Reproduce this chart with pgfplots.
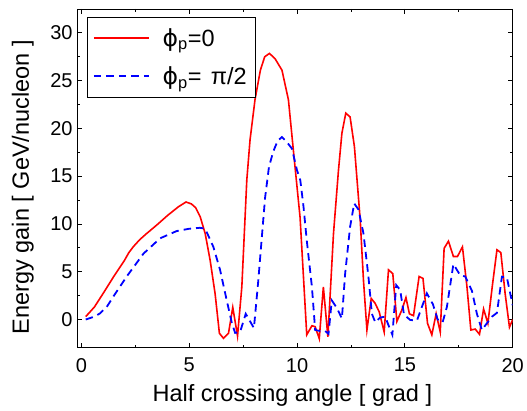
\documentclass[border=0pt]{standalone}
\usepackage{pgfplots}
\pgfplotsset{compat=1.18}
\usepackage{fontspec}
\setmainfont{Liberation Sans}
\newfontfamily\dejavu{DejaVu Sans}
\begin{document}
\begin{tikzpicture}
\begin{axis}[
  scale only axis,
  width=435.4bp, height=338.7bp,
  xmin=-0.19, xmax=20, ymin=-2.95, ymax=32.5,
  xtick={0,5,...,20}, ytick={0,5,...,30},
  minor x tick num=1, minor y tick num=1,
  tick align=inside,
  major tick length=5bp, minor tick length=3bp,
  axis line style={line width=0.8bp},
  every tick/.style={black, line width=0.8bp},
  /pgf/number format/assume math mode=true,
  tick label style={font=\fontsize{20bp}{24bp}\selectfont},
  xticklabel style={inner ysep=0pt, yshift=-10.3bp},
  yticklabel style={inner xsep=0pt, xshift=-4.6bp},
  label style={font=\fontsize{23.5bp}{28bp}\selectfont},
  xlabel={Half crossing angle [ grad ]},
  ylabel={Energy gain [ GeV/nucleon ]},
  xlabel style={at={(axis description cs:0.494,-0.1574)}, anchor=base, inner sep=0pt},
  ylabel style={at={(axis description cs:-0.111,0.474)}, anchor=base, inner sep=0pt},
  legend style={at={(axis description cs:0.0216,0.976)}, anchor=north west,
    draw=black, fill=white,
    font=\fontsize{23.5bp}{28bp}\selectfont,
    inner xsep=6bp, inner ysep=9bp, row sep=15bp,
    cells={anchor=west},
    /tikz/every odd column/.append style={column sep=11bp}},
  legend image code/.code={\draw[#1] (0bp,0bp) -- (55bp,0bp);},
]
\addplot[red, line width=1.6bp] coordinates {
(0.2,0.3) (0.6,1.3) (1.0,2.7) (1.5,4.5) (2.0,6.2) (2.2,7.0) (2.4,7.6) (2.6,8.1)
(2.8,8.55) (3.0,8.95) (3.5,9.9)
(4.0,10.9) (4.5,11.8) (4.85,12.3) (5.1,12.1) (5.3,11.7) (5.51,10.75) (5.74,9.0)
(5.97,6.2) (6.2,2.7) (6.4,-1.45) (6.59,-1.97) (6.82,-1.45) (7.02,1.27) (7.24,-1.73)
(7.44,3.43) (7.67,14.6) (7.82,18.8) (8.05,23.0) (8.3,26.1) (8.5,27.5) (8.72,27.85)
(8.98,27.3) (9.3,26.1) (9.6,23.0) (9.83,17.7) (10.14,10.7) (10.45,-1.6) (10.69,-0.65)
(10.84,-0.75) (11.03,-2.0) (11.22,3.4) (11.43,-1.8) (11.69,9.0) (11.92,15.6)
(12.08,19.5) (12.26,21.6) (12.46,21.2) (12.66,18.1) (12.93,10.4) (13.08,4.1)
(13.24,-1.1) (13.44,2.2) (13.62,1.7) (13.81,0.8) (14.04,-1.3) (14.24,5.2)
(14.44,4.8) (14.63,-0.2) (14.86,1.0) (15.05,2.3) (15.21,0.6) (15.40,0.4)
(15.66,4.5) (15.84,4.3) (16.05,-0.4) (16.25,-1.6) (16.45,0.6) (16.64,-1.3)
(16.82,7.45) (17.02,8.2) (17.25,6.6) (17.44,6.6) (17.67,7.6) (17.88,3.4)
(18.06,-1.1) (18.26,-1.0) (18.46,-1.55) (18.65,1.1) (18.85,-0.4) (19.06,3.6)
(19.27,7.3) (19.45,7.0) (19.65,2.7) (19.85,-0.8) (20.0,0.0)
};
\addlegendentry{{\dejavu ϕ}\textsubscript{p}=0}
\addplot[blue, line width=1.8bp, dash pattern=on 7.5bp off 5bp] coordinates {
(0.2,0.0) (0.6,0.3) (0.87,0.65) (1.2,1.4) (1.48,2.4) (2.1,4.5) (2.88,6.9)
(3.65,8.5) (4.42,9.26) (5.0,9.5) (5.5,9.6) (5.74,9.5) (6.12,7.6) (6.43,5.2)
(6.74,2.0) (6.98,-0.4) (7.13,-1.4) (7.36,-1.3) (7.62,0.6) (7.85,-0.3) (8.0,-0.9)
(8.2,4.0) (8.37,8.7) (8.52,12.8) (8.7,16.0) (8.9,17.6) (9.1,18.7) (9.3,19.1)
(9.55,18.5) (9.76,17.9) (10.0,15.6) (10.15,14.6) (10.3,11.8) (10.45,8.3)
(10.69,3.4) (10.84,-1.1) (11.07,-1.2) (11.3,-1.2) (11.46,-1.5) (11.61,2.0)
(11.85,1.2) (12.08,0.1) (12.23,4.8) (12.46,9.7) (12.65,12.15) (12.85,11.5)
(13.08,9.0) (13.31,4.5) (13.47,0.6) (13.63,-0.3) (13.85,0.2) (14.09,0.3)
(14.24,-0.6) (14.42,-1.6) (14.6,3.6) (14.78,3.1) (14.96,0.5) (15.25,-0.05)
(15.56,-0.1) (16.02,2.74) (16.3,1.6) (16.52,0.0) (16.75,-0.3) (16.95,1.34)
(17.25,5.8) (17.56,4.65) (17.8,4.5) (18.11,3.0) (18.34,0.6) (18.57,-1.1)
(18.8,-0.4) (19.03,0.29) (19.27,0.7) (19.5,4.48) (19.73,4.4) (20.0,1.5)
};
\addlegendentry{{\dejavu ϕ}\textsubscript{p}=\hspace{0.4em}π/2\hspace{5bp}}
\end{axis}
\pgfresetboundingbox
\path[use as bounding box] ([shift={(-77.3bp,-63.3bp)}]current axis.south west) rectangle ([shift={(449.7bp,347.7bp)}]current axis.south west);
\end{tikzpicture}
\end{document}
